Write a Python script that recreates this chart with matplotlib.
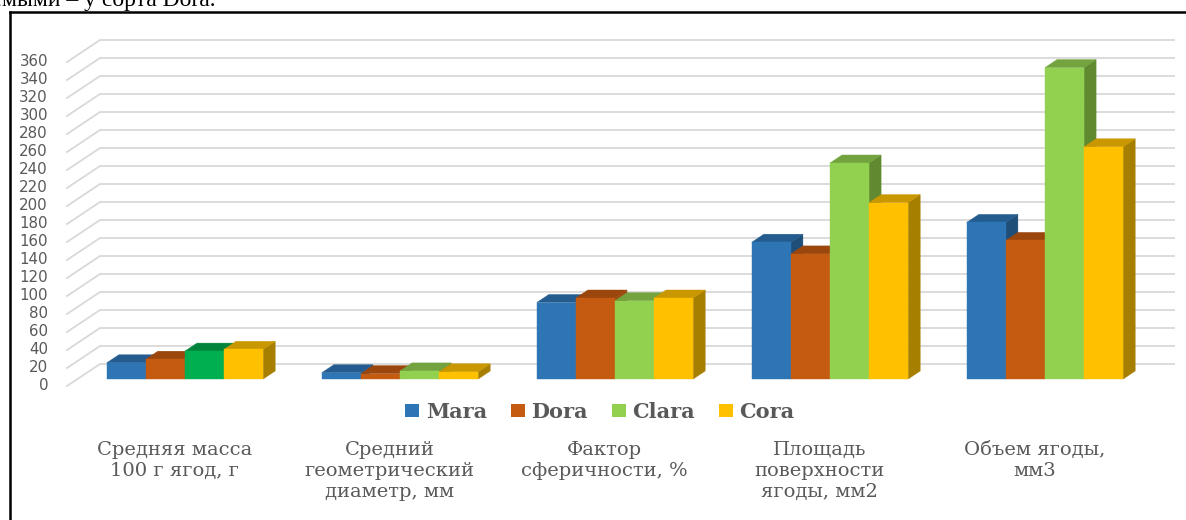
import matplotlib
matplotlib.use("Agg")
import matplotlib.pyplot as plt
from matplotlib.patches import Polygon, Patch
from matplotlib.lines import Line2D

# ---------------- data ----------------
categories = [
    "Средняя масса\n100 г ягод, г",
    "Средний\nгеометрический\nдиаметр, мм",
    "Фактор\nсферичности, %",
    "Площадь\nповерхности\nягоды, мм2",
    "Объем ягоды,\nмм3",
]
series_names = ["Mara", "Dora", "Clara", "Cora"]
mara = [18, 7, 85, 152, 174]
dora = [22, 6, 90, 139, 154]
clara = [31, 9, 87, 240, 346]
cora = [33, 8, 90, 196, 258]
yticks = list(range(0, 361, 20))

# ---------------- styles ----------------
front_colors = ["#2E75B6", "#C55A11", "#92D050", "#FFC000"]
top_colors = ["#245C8F", "#9A460D", "#72A33E", "#C99700"]
side_colors = ["#1F4E79", "#A04A0E", "#5F8A30", "#A67E00"]
# individually coloured point (Clara, first category)
special = {(2, 0): ("#00B050", "#00843C", "#007A38")}

W, H, DPI = 1186, 520, 100
PX_CAT, PX_VAL = 215.0, 0.9      # pixels per category / per value unit
X0, Y0 = 185.0, 379.0            # pixel position of category 0, value 0 (bar front plane)

fig = plt.figure(figsize=(W / DPI, H / DPI), dpi=DPI)
ax = fig.add_axes([0, 0, 1, 1])
ax.set_xlim(-X0 / PX_CAT, (W - X0) / PX_CAT)
ax.set_ylim((Y0 - H) / PX_VAL, Y0 / PX_VAL)
ax.axis("off")


def depth(d):
    """oblique offset for a depth of d pixels -> (dx in category units, dy in value units)"""
    return 1.5 * d / PX_CAT, d / PX_VAL


fdx, fdy = depth(-7)   # front edge of floor
wdx, wdy = depth(15)   # back wall
bdx, bdy = depth(8)    # bar depth

grid_color = "#D9D9D9"
ncat = len(categories)
left, right = -0.5, ncat - 0.5

# gridlines (back wall + left wall)
for v in yticks:
    ax.plot([left + wdx, right + wdx], [v + wdy, v + wdy], color=grid_color, lw=1.3, zorder=1,
            solid_capstyle="butt")
    ax.plot([left + fdx, left + wdx], [v + fdy, v + wdy], color=grid_color, lw=1.3, zorder=1)
    ax.text(left + fdx - 19 / PX_CAT, v + fdy, str(v), ha="right", va="center",
            fontsize=10.8, color="#595959", family="DejaVu Sans")

# bars
data = [mara, dora, clara, cora]
nser = len(data)
w = 1.0 / (nser + 1.5)
z = 2
for i in range(ncat):
    for s in range(nser):
        val = data[s][i]
        fc, tc, sc = special.get((s, i), (front_colors[s], top_colors[s], side_colors[s]))
        xl = i - nser * w / 2 + s * w
        xr = xl + w
        side = Polygon([(xr, 0), (xr + bdx, bdy), (xr + bdx, val + bdy), (xr, val)],
                       closed=True, facecolor=sc, edgecolor=sc, lw=0.3, zorder=z)
        top = Polygon([(xl, val), (xr, val), (xr + bdx, val + bdy), (xl + bdx, val + bdy)],
                      closed=True, facecolor=tc, edgecolor=tc, lw=0.3, zorder=z + 1)
        front = Polygon([(xl, 0), (xr, 0), (xr, val), (xl, val)],
                        closed=True, facecolor=fc, edgecolor=fc, lw=0.3, zorder=z + 2)
        for p in (side, top, front):
            ax.add_patch(p)
        z += 3

# category labels
for i, lab in enumerate(categories):
    ax.text(i + fdx, fdy - 55 / PX_VAL, lab, ha="center", va="top", fontsize=14,
            color="#595959", family="DejaVu Serif", linespacing=1.2)

# legend
handles = [Patch(facecolor=c, edgecolor="none") for c in front_colors]
fig.legend(handles, series_names, loc="center", bbox_to_anchor=(600 / W, 1 - 412 / H),
           ncol=4, frameon=False,
           prop=dict(family="DejaVu Serif", weight="bold", size=15), labelcolor="#595959",
           handlelength=0.67, handleheight=0.62, handletextpad=0.32, columnspacing=1.14)

# frame of the embedded chart and clipped document text above it
fig.add_artist(Line2D([9.5 / W, 9.5 / W], [0, 1 - 12 / H], color="black", lw=1.8,
                      transform=fig.transFigure))
fig.add_artist(Line2D([9.5 / W, 1], [1 - 12 / H, 1 - 12 / H], color="black", lw=1.8,
                      transform=fig.transFigure))
fig.text(215 / W, 1 - 6 / H, "культивируемыми – у сорта Dora.", ha="right", va="baseline",
         fontsize=17, family="Liberation Serif", color="black")

fig.savefig("out.png", dpi=DPI)
